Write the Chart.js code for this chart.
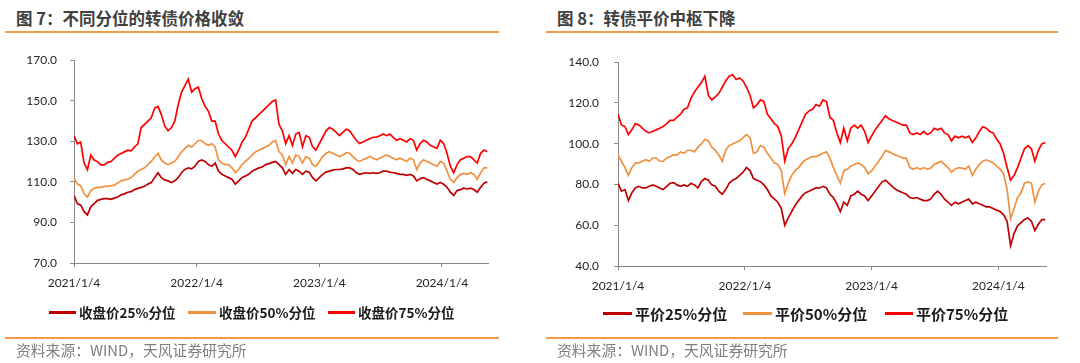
<!DOCTYPE html>
<html>
<head>
<meta charset="utf-8">
<script src="https://cdn.jsdelivr.net/npm/chart.js@4.4.1/dist/chart.umd.min.js"></script>
<style>
  html, body { margin: 0; padding: 0; background: #fff; }
  body { width: 1080px; height: 363px; position: relative; overflow: hidden; font-family: 'Noto Sans CJK SC', sans-serif; }
  .title { position: absolute; top: 6px; font-size: 16.5px; font-weight: bold; color: #404040; white-space: nowrap; }
  .rule { position: absolute; height: 2px; background: #f29a4a; }
  .source { position: absolute; top: 339px; font-size: 14.8px; color: #7f7f7f; white-space: nowrap; }
  canvas { position: absolute; }
  .legend-item { position: absolute; display: flex; align-items: center; font-weight: bold; color: #1a1a1a; white-space: nowrap; }
  .legend-swatch { display: inline-block; height: 3px; margin-right: 3px; }
</style>
</head>
<body>

<div class="title" style="left:16px">图 7：不同分位的转债价格收敛</div>
<div class="rule" style="left:5px; width:494px; top:31px"></div>
<canvas id="leftChart" width="540" height="270" style="left:0; top:40px"></canvas>
<div id="leftLegend"></div>
<div class="rule" style="left:5px; width:494px; top:337px"></div>
<div class="source" style="left:16px">资料来源：WIND，天风证券研究所</div>

<div class="title" style="left:557px">图 8：转债平价中枢下降</div>
<div class="rule" style="left:546px; width:512px; top:31px"></div>
<canvas id="rightChart" width="540" height="270" style="left:540px; top:40px"></canvas>
<div id="rightLegend"></div>
<div class="rule" style="left:546px; width:512px; top:337px"></div>
<div class="source" style="left:557px">资料来源：WIND，天风证券研究所</div>

<script>
'use strict';

/* Two line charts: convertible bond close price and conversion value percentiles, 2021/1/4 onwards. */

// one sample every 10 calendar days from 2021/1/4
const STEP_DAYS = 10;
const X_MAX_DAYS = 1232;
const X_TICK_DAYS = [0, 365, 730, 1095];
const X_TICK_LABELS = ['2021/1/4', '2022/1/4', '2023/1/4', '2024/1/4'];

const LEFT_NAMES = ['收盘价25%分位', '收盘价50%分位', '收盘价75%分位'];
const RIGHT_NAMES = ['平价25%分位', '平价50%分位', '平价75%分位'];
const COLORS = ['#c00000', '#f0913f', '#ff0000'];

// 图7 收盘价
const L_P25 = [
  103.3, 99.3, 98.5, 95.3, 93.7, 97.7, 99.3, 100.9, 101.4, 101.7, 101.7, 101.4, 102, 102.5, 103.6, 104.1,
  104.9, 105.2, 106.2, 106.8, 107.3, 107.8, 108.9, 109.7, 112.1, 114.5, 112.1, 111, 110.5, 109.7, 110.5,
  112.1, 114.5, 116.1, 116.9, 116.4, 117.7, 120.1, 120.8, 120.1, 118.5, 117.7, 119.3, 115.3, 113.7, 112.9,
  112.1, 111.3, 108.9, 110.5, 112.1, 112.9, 113.7, 115.3, 116.1, 116.9, 117.3, 118.5, 119, 119.6, 120.1,
  118.5, 116.9, 113.7, 116.1, 114.2, 116.1, 115.3, 113.7, 115.3, 114.8, 112.1, 110.5, 112.1, 113.7, 114.8,
  115.3, 115.8, 116.1, 116.1, 116.4, 116.9, 116.9, 116.1, 114.5, 113.7, 114.2, 114.5, 114.2, 114.5, 114.2,
  114.5, 115.3, 115.3, 114.8, 114.5, 114.2, 113.7, 113.7, 113.2, 113.7, 112.9, 110.5, 111.6, 112.1, 111.3,
  110.5, 109.7, 108.9, 109.7, 108.9, 107.3, 104.9, 103.3, 105.7, 106.2, 106.9, 106.5, 106.9, 106.2, 104.9,
  107.3, 109.4, 110
];
const L_P50 = [
  112, 108.9, 108.1, 104.1, 102.5, 105.7, 106.8, 107.3, 107.3, 107.8, 107.8, 108.1, 108.4, 109.4, 110.5, 111,
  111.3, 112.1, 113.7, 115.3, 116.1, 116.9, 118.5, 120.1, 122.4, 124, 120.8, 119.3, 118.5, 119.3, 120.1,
  122.4, 124.8, 126.4, 128, 127.2, 128.8, 130.4, 130.4, 128.8, 128, 128.8, 127.2, 120.8, 119.3, 118.5,
  118.5, 116.9, 114.5, 116.1, 118.5, 120.1, 121.6, 123.2, 124.8, 125.6, 126.4, 127.2, 128, 129.6, 130.4,
  124.9, 123.3, 118.5, 122.5, 119.3, 123.3, 122.5, 119.3, 122.5, 121.7, 118.5, 117.7, 120.1, 122.5, 124.1,
  124.9, 124.1, 123.3, 122.5, 123.3, 124.4, 124.1, 122.5, 120.9, 120.1, 120.9, 121.7, 122.5, 121.7, 120.9,
  121.7, 122.5, 123.3, 122.5, 121.7, 120.9, 121.7, 120.9, 120.1, 121.7, 120.9, 116.1, 119.3, 120.9, 120.1,
  119.3, 118.5, 117.7, 120.1, 119.3, 115.3, 111.3, 109.7, 112.1, 113.7, 114.2, 113.7, 114.5, 113.7, 111.3,
  114.5, 116.9, 116.9
];
const L_P75 = [
  132.8, 128.8, 129.6, 119.3, 116, 123.2, 120.8, 120, 118.4, 118.4, 119.6, 120, 121.6, 123.2, 124, 124.8,
  125.6, 125.3, 127.2, 128.8, 136.8, 138.4, 140, 141.6, 146.4, 147.2, 143.2, 137.6, 135.2, 136.8, 140,
  148, 154.3, 157.5, 160.7, 154.3, 155.9, 156.7, 151.1, 147.2, 144.8, 140, 140, 133.6, 130.4, 128.8,
  127.2, 125.6, 122.4, 125.6, 129.6, 132, 136, 140, 141.6, 143.2, 144.8, 146.4, 148, 149.6, 150.4,
  138.4, 135.2, 128.9, 132.8, 128, 133.6, 134.4, 127.3, 132.8, 132, 127.3, 125.7, 128.9, 132, 135.2,
  136.8, 136, 134.4, 132.8, 134.4, 136, 135.2, 132.8, 130.5, 128.9, 129.7, 130.5, 131.3, 132, 132,
  132.8, 133.6, 132.8, 133.6, 132, 130.5, 131.3, 130.5, 129.7, 131.3, 130.5, 125.7, 128.9, 130.5, 129.7,
  128, 127.3, 126.5, 130.5, 128.9, 124.1, 117.7, 114.5, 118.5, 120.9, 121.7, 122.5, 122.5, 120.9, 119.3,
  124.1, 125.7, 124.9
];

// 图8 平价
const R_P25 = [
  80.6, 76.7, 77.5, 72.1, 76.0, 78.3, 79.1, 78.3, 78.3, 79.1, 79.8, 79.1, 78.3, 77.5, 79.1, 80.6,
  80.9, 79.8, 79.1, 79.8, 79.1, 80.6, 79.8, 78.3, 81.4, 82.9, 82.1, 79.8, 79.1, 76.7, 75.2,
  77.5, 80.6, 82.1, 82.9, 84.5, 86.0, 88.3, 86.8, 82.9, 82.1, 81.4, 79.8, 77.5, 74.4, 72.9,
  71.3, 68.3, 60.0, 63.6, 66.7, 69.8, 72.1, 74.4, 76.0, 76.7, 77.5, 78.3, 78.3, 79.1, 78.3,
  75.2, 73.6, 70.5, 66.7, 71.3, 69.8, 74.4, 75.2, 76.7, 75.2, 74.4, 72.1, 74.4, 76.7, 79.0,
  81.3, 82.1, 80.6, 79.0, 77.5, 76.7, 75.9, 75.2, 73.6, 73.2, 73.6, 72.8, 72.1, 72.1, 72.8,
  75.2, 76.7, 75.2, 72.8, 71.3, 69.8, 71.3, 70.5, 71.3, 72.1, 72.8, 70.5, 71.3, 70.5, 69.8,
  69.0, 69.0, 68.2, 67.4, 66.7, 65.1, 62.0, 50.0, 55.9, 59.7, 61.3, 62.8, 63.6, 62.0, 57.4,
  60.5, 62.8, 62.8
];
const R_P50 = [
  94.5, 91.4, 88.3, 84.5, 88.3, 90.6, 90.6, 91.4, 92.2, 91.4, 93.0, 93.0, 91.4, 91.4, 93.0, 93.7,
  94.5, 94.5, 96.0, 95.3, 96.8, 96.8, 96.0, 98.3, 99.9, 102.2, 101.4, 98.3, 96.8, 94.5, 91.4,
  96.8, 99.1, 99.9, 100.7, 101.4, 103.0, 104.5, 103.0, 95.3, 96.0, 99.1, 98.3, 95.3, 93.0, 90.6,
  89.9, 86.8, 75.5, 80.6, 84.5, 86.8, 88.3, 90.6, 92.2, 93.0, 93.7, 93.7, 94.5, 95.3, 96.0,
  92.9, 88.3, 84.4, 80.6, 86.7, 87.5, 89.0, 89.8, 90.6, 89.8, 88.3, 85.2, 86.7, 89.0, 91.4,
  93.7, 96.8, 96.0, 95.2, 94.4, 93.7, 92.9, 92.9, 88.3, 87.5, 88.3, 87.5, 88.3, 87.5, 88.0,
  89.8, 90.6, 91.4, 89.8, 88.3, 86.0, 87.5, 88.3, 88.0, 87.5, 89.0, 84.4, 87.5, 89.8, 91.4,
  92.1, 91.4, 90.6, 89.0, 87.5, 85.2, 77.5, 63.0, 68.2, 73.6, 75.9, 80.6, 81.3, 80.6, 71.3,
  76.7, 79.8, 80.6
];
const R_P75 = [
  114.5, 109.2, 108.4, 104.5, 106.8, 109.9, 109.2, 107.6, 106.1, 105.3, 106.1, 106.8, 107.6, 108.4, 109.9, 111.5,
  111.5, 113.0, 114.5, 116.9, 117.6, 122.3, 125.4, 127.7, 130.0, 133.1, 123.8, 121.5, 123.0, 124.6, 127.7,
  130.8, 133.1, 133.8, 131.5, 132.3, 130.8, 127.7, 123.8, 117.6, 119.2, 121.5, 120.7, 114.5, 112.2, 109.9,
  108.4, 103.8, 91.5, 97.6, 99.9, 103.0, 106.8, 110.7, 114.5, 116.1, 116.9, 119.2, 118.4, 121.5, 120.7,
  113.0, 111.4, 105.3, 100.6, 107.6, 101.4, 107.6, 109.1, 107.6, 109.1, 106.0, 100.6, 103.7, 106.8, 109.1,
  111.4, 113.7, 112.2, 111.4, 110.7, 109.9, 109.1, 109.1, 105.3, 104.5, 105.3, 104.5, 106.0, 104.5, 105.3,
  107.6, 106.8, 107.6, 105.3, 104.5, 101.4, 103.7, 102.9, 103.7, 102.9, 103.7, 100.6, 102.9, 106.0, 108.3,
  107.6, 106.0, 105.3, 102.2, 99.9, 95.2, 88.3, 82.1, 84.4, 88.3, 92.9, 97.5, 99.1, 97.5, 91.4,
  96.8, 99.9, 100.6
];

const AXIS_GREY = '#898989';
const TICK_FONT = { family: 'Lato', size: 12 };

function buildChart(canvasId, series, yRange, box) {
  const ctx = document.getElementById(canvasId).getContext('2d');
  const datasets = series.map((values, k) => ({
    data: values.map((v, i) => ({ x: i * STEP_DAYS, y: v })),
    borderColor: COLORS[k],
    borderWidth: 1.7,
    pointRadius: 0,
    tension: 0,
    fill: false,
  }));

  return new Chart(ctx, {
    type: 'line',
    data: { datasets },
    options: {
      responsive: false,
      devicePixelRatio: 1,
      animation: false,
      layout: { padding: { left: 0, right: box.padRight, top: box.padTop, bottom: 0 } },
      plugins: { legend: { display: false }, tooltip: { enabled: false } },
      scales: {
        x: {
          type: 'linear',
          min: 0,
          max: X_MAX_DAYS,
          afterFit: (s) => { s.height = box.xHeight; },
          afterBuildTicks: (s) => { s.ticks = X_TICK_DAYS.map((v) => ({ value: v })); },
          grid: { display: true, drawOnChartArea: false, drawTicks: true, tickLength: 4, color: AXIS_GREY },
          border: { display: true, color: AXIS_GREY, width: 1 },
          ticks: {
            color: '#262626',
            font: TICK_FONT,
            padding: 9,
            maxRotation: 0,
            autoSkip: false,
            callback: (v) => X_TICK_LABELS[X_TICK_DAYS.indexOf(v)] || '',
          },
        },
        y: {
          min: yRange[0],
          max: yRange[1],
          afterFit: (s) => { s.width = box.yWidth; },
          grid: { display: true, drawOnChartArea: false, drawTicks: true, tickLength: 4, color: AXIS_GREY },
          border: { display: true, color: AXIS_GREY, width: 1 },
          ticks: {
            stepSize: 20,
            color: '#262626',
            font: TICK_FONT,
            padding: box.yPad,
            callback: (v) => v.toFixed(1),
          },
        },
      },
    },
  });
}

function buildLegend(id, names, items, fontSize) {
  document.getElementById(id).innerHTML = items
    .map((it, k) => `<div class="legend-item" style="left:${it.left}px; top:${it.top}px; font-size:${fontSize}px">` +
      `<span class="legend-swatch" style="width:${it.swatch}px; background:${COLORS[k]}"></span>${names[k]}</div>`)
    .join('');
}

buildChart('leftChart', [L_P25, L_P50, L_P75], [70, 170],
  { padRight: 52, padTop: 14, xHeight: 47, yWidth: 74, yPad: 13 });
buildChart('rightChart', [R_P25, R_P50, R_P75], [40, 140],
  { padRight: 34, padTop: 10, xHeight: 44, yWidth: 78, yPad: 15 });

buildLegend('leftLegend', LEFT_NAMES, [
  { left: 49, top: 302, swatch: 27 },
  { left: 188, top: 302, swatch: 28 },
  { left: 328, top: 302, swatch: 27 },
], 13.5);
buildLegend('rightLegend', RIGHT_NAMES, [
  { left: 603, top: 303, swatch: 29 },
  { left: 743, top: 303, swatch: 29 },
  { left: 885, top: 303, swatch: 28 },
], 15);
</script>
</body>
</html>
